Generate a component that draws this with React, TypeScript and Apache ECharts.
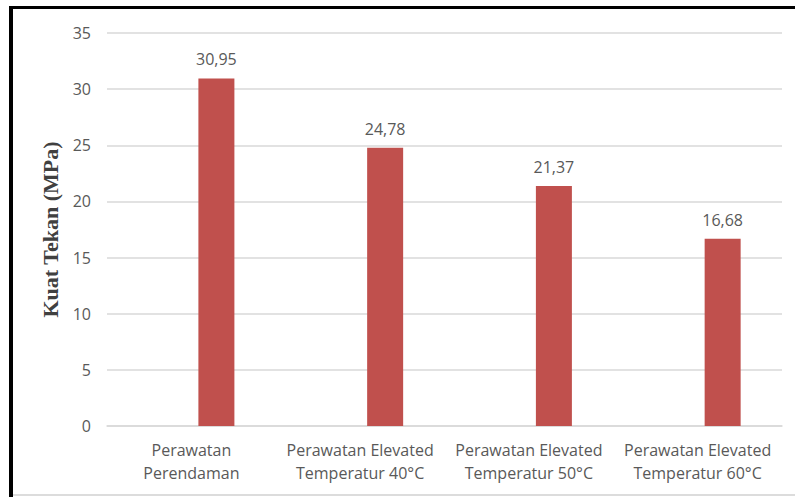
import React, { useEffect, useRef } from "react";
import * as echarts from "echarts";

const categories = [
  "Perawatan\nPerendaman",
  "Perawatan Elevated\nTemperatur 40°C",
  "Perawatan Elevated\nTemperatur 50°C",
  "Perawatan Elevated\nTemperatur 60°C",
];
const strengthValues = [30.95, 24.78, 21.37, 16.68];
const emptyValues = [null, null, null, null];
const yTicks = { min: 0, max: 35, interval: 5 };
const yAxisTitle = "Kuat Tekan (MPa)";

const FONT = "'Open Sans', 'Noto Sans', sans-serif";

export default function App() {
  const ref = useRef<HTMLDivElement>(null);
  useEffect(() => {
    if (!ref.current) return;
    const chart = echarts.init(ref.current, undefined, { renderer: "svg" });
    chart.setOption({
      animation: false,
      backgroundColor: "#ffffff",
      grid: { left: 107, right: 13, top: 33, bottom: 71 },
      xAxis: {
        type: "category",
        data: categories,
        axisLine: { show: true, lineStyle: { color: "#d9d9d9", width: 1.5 } },
        axisTick: { show: false },
        axisLabel: {
          color: "#595959",
          fontFamily: FONT,
          fontSize: 16,
          lineHeight: 23,
          margin: 12,
          interval: 0,
        },
      },
      yAxis: {
        type: "value",
        min: yTicks.min,
        max: yTicks.max,
        interval: yTicks.interval,
        name: yAxisTitle,
        nameLocation: "middle",
        nameRotate: 90,
        nameGap: 45,
        nameTextStyle: {
          fontFamily: "'Liberation Serif', 'DejaVu Serif', serif",
          fontWeight: "bold",
          fontSize: 22,
          color: "#404040",
        },
        axisLine: { show: false },
        axisTick: { show: false },
        axisLabel: { color: "#595959", fontFamily: FONT, fontSize: 16, margin: 16 },
        splitLine: { lineStyle: { color: "#d9d9d9", width: 1.5 } },
      },
      series: [
        {
          type: "bar",
          data: emptyValues,
          barWidth: 36,
          barGap: "39%",
          itemStyle: { color: "#4f81bd" },
        },
        {
          type: "bar",
          data: strengthValues,
          barWidth: 36,
          barGap: "39%",
          itemStyle: { color: "#c0504d" },
          label: {
            show: true,
            position: "top",
            distance: 11,
            color: "#595959",
            fontFamily: FONT,
            fontSize: 16,
            formatter: (p: any) => p.value.toFixed(2).replace(".", ","),
          },
        },
      ],
      graphic: [
        { type: "rect", shape: { x: 9, y: 6, width: 786, height: 3 }, style: { fill: "#000" } },
        { type: "rect", shape: { x: 9, y: 6, width: 4, height: 491 }, style: { fill: "#000" } },
        { type: "rect", shape: { x: 13, y: 494, width: 782, height: 2 }, style: { fill: "#dcdcdc" } },
      ],
    });
    return () => chart.dispose();
  }, []);
  return (
    <div
      ref={ref}
      style={{ position: "fixed", left: 0, top: 0, width: 795, height: 497 }}
    />
  );
}
